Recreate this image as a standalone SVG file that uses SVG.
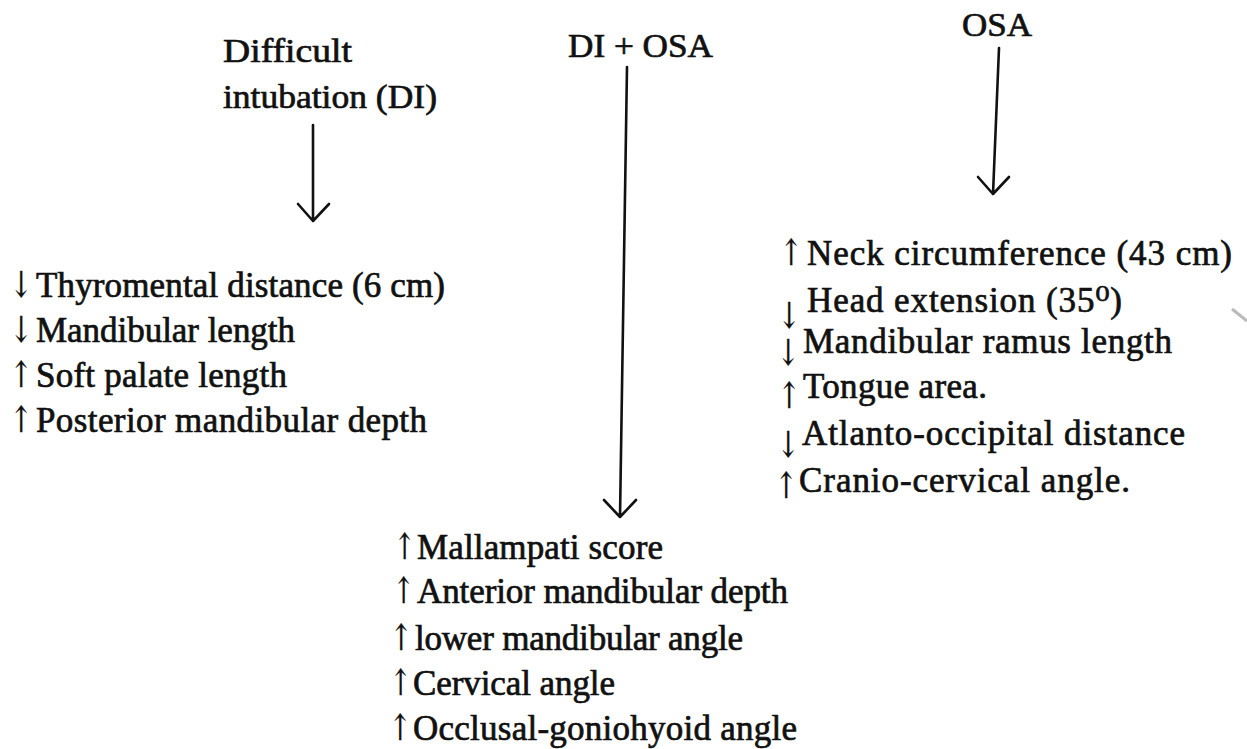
<svg xmlns="http://www.w3.org/2000/svg" width="1247" height="749" viewBox="0 0 1247 749">
<style>
text{font-family:"Liberation Serif","DejaVu Serif",serif;fill:#111;stroke:#111;stroke-width:0.7;}
.h{font-size:34px;}
.t{font-size:35px;}
.a{font-size:36px;font-family:"DejaVu Serif","Liberation Serif",serif;stroke-width:0.3;}
.c{fill:none;stroke:#111;stroke-width:2.6;stroke-linecap:round;stroke-linejoin:round;}
</style>
<rect width="1247" height="749" fill="#fff"/>
<g id="node-di">
<text class="h" x="223" y="62" textLength="129" lengthAdjust="spacingAndGlyphs">Difficult</text>
<text class="h" x="223" y="108" textLength="214" lengthAdjust="spacingAndGlyphs">intubation (DI)</text>
</g>
<g id="node-dios">
<text class="h" x="568" y="57" textLength="145" lengthAdjust="spacingAndGlyphs">DI + OSA</text>
</g>
<g id="node-osa">
<text class="h" x="962" y="36" textLength="70" lengthAdjust="spacingAndGlyphs">OSA</text>
</g>
<g id="list-di">
<text class="t" y="297"><tspan class="a" x="10" textLength="22" lengthAdjust="spacingAndGlyphs">↓</tspan><tspan x="36" textLength="409">Thyromental distance (6 cm)</tspan></text>
<text class="t" y="342"><tspan class="a" x="10" textLength="22" lengthAdjust="spacingAndGlyphs">↓</tspan><tspan x="36" textLength="259">Mandibular length</tspan></text>
<text class="t" y="387"><tspan class="a" x="10" textLength="22" lengthAdjust="spacingAndGlyphs">↑</tspan><tspan x="36" textLength="251">Soft palate length</tspan></text>
<text class="t" y="432"><tspan class="a" x="10" textLength="22" lengthAdjust="spacingAndGlyphs">↑</tspan><tspan x="36" textLength="391">Posterior mandibular depth</tspan></text>
</g>
<g id="list-osa">
<text class="t" y="265"><tspan class="a" x="780" textLength="22" lengthAdjust="spacingAndGlyphs">↑</tspan><tspan x="807" textLength="425">Neck circumference (43 cm)</tspan></text>
<text class="t" y="312"><tspan class="a" x="778" dy="16" textLength="22" lengthAdjust="spacingAndGlyphs">↓</tspan><tspan x="807" dy="-16" textLength="315">Head extension (35⁰)</tspan></text>
<text class="t" y="353"><tspan class="a" x="777" dy="12" textLength="22" lengthAdjust="spacingAndGlyphs">↓</tspan><tspan x="803" dy="-12" textLength="369">Mandibular ramus length</tspan></text>
<text class="t" y="398"><tspan class="a" x="778" dy="10" textLength="22" lengthAdjust="spacingAndGlyphs">↑</tspan><tspan x="803" dy="-10" textLength="184">Tongue area.</tspan></text>
<text class="t" y="445"><tspan class="a" x="777" dy="12" textLength="22" lengthAdjust="spacingAndGlyphs">↓</tspan><tspan x="802" dy="-12" textLength="383">Atlanto-occipital distance</tspan></text>
<text class="t" y="492"><tspan class="a" x="775" dy="6" textLength="22" lengthAdjust="spacingAndGlyphs">↑</tspan><tspan x="799" dy="-6" textLength="331">Cranio-cervical angle.</tspan></text>
</g>
<g id="list-both">
<text class="t" y="559"><tspan class="a" x="394" textLength="21" lengthAdjust="spacingAndGlyphs">↑</tspan><tspan x="417" textLength="246">Mallampati score</tspan></text>
<text class="t" y="603"><tspan class="a" x="393" textLength="21" lengthAdjust="spacingAndGlyphs">↑</tspan><tspan x="417" textLength="371">Anterior mandibular depth</tspan></text>
<text class="t" y="650"><tspan class="a" x="390" textLength="22" lengthAdjust="spacingAndGlyphs">↑</tspan><tspan x="415" textLength="328">lower mandibular angle</tspan></text>
<text class="t" y="695"><tspan class="a" x="390" textLength="21" lengthAdjust="spacingAndGlyphs">↑</tspan><tspan x="413" textLength="202">Cervical angle</tspan></text>
<text class="t" y="740"><tspan class="a" x="389" textLength="22" lengthAdjust="spacingAndGlyphs">↑</tspan><tspan x="413" textLength="384">Occlusal-goniohyoid angle</tspan></text>
</g>
<g id="connectors">
<path class="c" d="M313 125 L313 221 M298 204 L313 221 L329 204"/>
<path class="c" d="M627 67 L620 517 M604 500 L620 517 L636 500"/>
<path class="c" d="M999 48 L993 194 M978 177 L993 194 L1009 177"/>
</g>
<path d="M1232 309 L1247 321" stroke="#bbb" stroke-width="3" fill="none"/>
</svg>
